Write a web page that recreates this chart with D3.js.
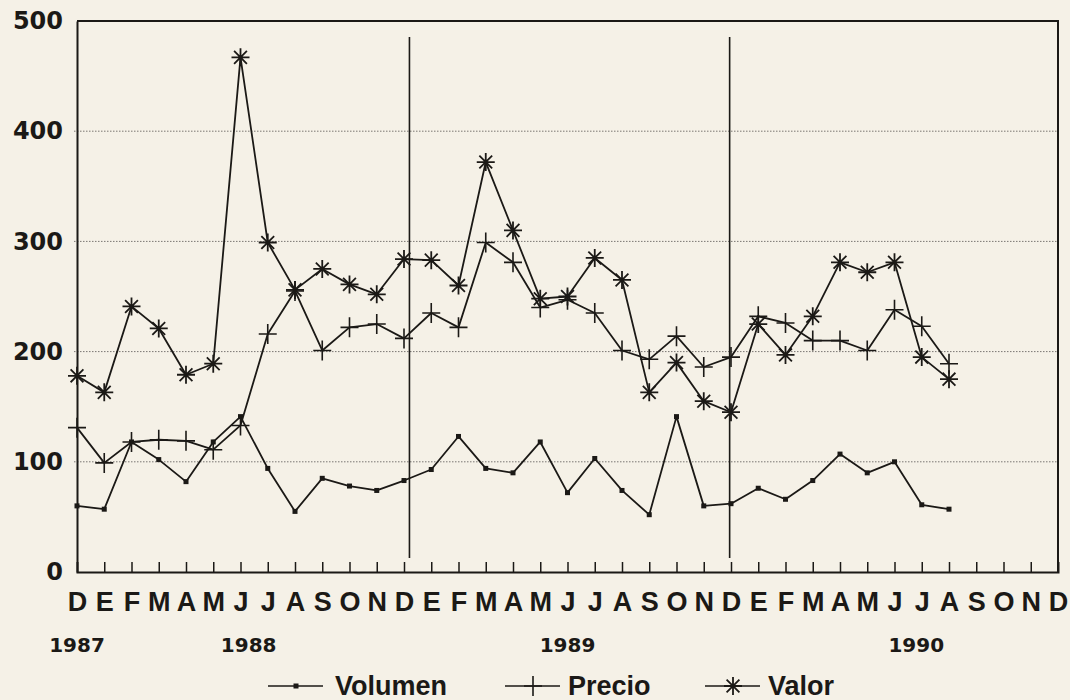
<!DOCTYPE html>
<html>
<head>
<meta charset="utf-8">
<script src="https://cdn.jsdelivr.net/npm/d3@7"></script>
<style>
  html, body { margin: 0; padding: 0; background: #f5f1e7; }
  svg { display: block; }
</style>
</head>
<body>
<div id="chart"></div>
<script>
// month letters, Dec 1987 .. Dec 1990
var months = ["D","E","F","M","A","M","J","J","A","S","O","N",
              "D","E","F","M","A","M","J","J","A","S","O","N",
              "D","E","F","M","A","M","J","J","A","S","O","N","D"];
var years = ["1987", "1988", "1989", "1990"];
var yearPos = [0, 6.3, 18, 30.8];      // month index where each year label sits
var separators = [12.2, 23.95];        // vertical year dividers
var yTicks = [0, 100, 200, 300, 400, 500];

var volumen = [60, 57, 118, 102, 82, 118, 141, 94, 55, 85, 78, 74,
               83, 93, 123, 94, 90, 118, 72, 103, 74, 52, 141, 60,
               62, 76, 66, 83, 107, 90, 100, 61, 57];
var precio  = [131, 99, 118, 120, 119, 111, 133, 216, 255, 201, 222, 225,
               212, 235, 222, 299, 281, 240, 247, 235, 201, 193, 214, 186,
               195, 232, 226, 210, 210, 201, 238, 223, 189];
var valor   = [178, 163, 241, 221, 179, 189, 467, 299, 256, 275, 261, 252,
               284, 283, 260, 372, 310, 248, 250, 285, 265, 163, 190, 155,
               145, 225, 197, 232, 281, 272, 281, 195, 175];

var ink = "#1b1916";
var W = 1070, H = 700;

var svg = d3.select("#chart").append("svg")
    .attr("width", W)
    .attr("height", H);

var x = d3.scaleLinear().domain([0, 36]).range([77, 1058]);
var y = d3.scaleLinear().domain([0, 500]).range([572, 21]);

// dotted grid
svg.append("g").selectAll("line")
  .data([100, 200, 300, 400])
  .enter().append("line")
    .attr("x1", x(0) - 3)
    .attr("x2", x(36))
    .attr("y1", d => y(d))
    .attr("y2", d => y(d))
    .attr("stroke", "#7a7672")
    .attr("stroke-width", 1)
    .attr("stroke-dasharray", "1.5,1.5");

// frame: top + right
svg.append("path")
    .attr("d", "M" + x(0) + "," + y(500) + "H" + x(36) + "V" + y(0))
    .attr("fill", "none")
    .attr("stroke", ink)
    .attr("stroke-width", 2);

// year separators
svg.append("g").selectAll("line")
  .data(separators)
  .enter().append("line")
    .attr("x1", d => x(d))
    .attr("x2", d => x(d))
    .attr("y1", 37)
    .attr("y2", 558)
    .attr("stroke", ink)
    .attr("stroke-width", 1.6);

// y axis
var yAxis = d3.axisLeft(y).tickValues(yTicks).tickSize(0).tickPadding(14);
var gy = svg.append("g")
    .attr("transform", "translate(" + x(0) + ",0)")
    .call(yAxis);
gy.select(".domain").attr("stroke", ink).attr("stroke-width", 2);
gy.selectAll("text")
    .attr("fill", ink)
    .style("font-family", "'DejaVu Sans', sans-serif")
    .style("font-weight", "bold")
    .style("font-size", "24px");

// x axis: ticks pointing up, letters below
var xAxis = d3.axisBottom(x)
    .tickValues(d3.range(0, 37))
    .tickSize(-10)
    .tickPadding(20)
    .tickFormat(i => months[i]);
var gx = svg.append("g")
    .attr("transform", "translate(0," + y(0) + ")")
    .call(xAxis);
gx.select(".domain").attr("stroke", ink).attr("stroke-width", 2);
gx.selectAll(".tick line")
    .attr("stroke", ink)
    .attr("stroke-width", 1.5)
    .attr("opacity", (d, i) => (i === 0 || i === 36) ? 0 : 1);
gx.selectAll("text")
    .attr("fill", ink)
    .style("font-family", "'Liberation Sans', Arial, sans-serif")
    .style("font-weight", "bold")
    .style("font-size", "27px");

// year labels
svg.append("g").selectAll("text")
  .data(years)
  .enter().append("text")
    .attr("x", (d, i) => x(yearPos[i]))
    .attr("y", 652)
    .attr("text-anchor", "middle")
    .attr("fill", ink)
    .style("font-family", "'DejaVu Sans', sans-serif")
    .style("font-weight", "bold")
    .style("font-size", "20px")
    .text(d => d);

// markers
function square(g) {
  g.append("rect").attr("x", -2.5).attr("y", -2.5).attr("width", 5).attr("height", 5)
    .attr("fill", ink);
}
function plus(g) {
  g.append("path").attr("d", "M-9,0H9M0,-10V10")
    .attr("stroke", ink).attr("stroke-width", 1.6).attr("fill", "none");
}
function star(g) {
  g.append("path").attr("d", "M-9,0H9M0,-9V9M-6.4,-6.4L6.4,6.4M-6.4,6.4L6.4,-6.4")
    .attr("stroke", ink).attr("stroke-width", 1.8).attr("fill", "none");
}

var line = d3.line()
    .x((d, i) => x(i))
    .y(d => y(d));

var series = [
  {name: "Volumen", values: volumen, mark: square},
  {name: "Precio", values: precio, mark: plus},
  {name: "Valor", values: valor, mark: star}
];

series.forEach(function (s) {
  svg.append("path")
      .datum(s.values)
      .attr("d", line)
      .attr("fill", "none")
      .attr("stroke", ink)
      .attr("stroke-width", 1.8)
      .attr("stroke-linejoin", "round");
  svg.append("g").selectAll("g")
    .data(s.values)
    .enter().append("g")
      .attr("transform", (d, i) => "translate(" + x(i) + "," + y(d) + ")")
      .each(function () { s.mark(d3.select(this)); });
});

// legend
var legendX = [268, 505, 705];
var leg = svg.append("g").selectAll("g")
  .data(series)
  .enter().append("g")
    .attr("transform", (d, i) => "translate(" + legendX[i] + ",686)");
leg.append("line")
    .attr("x1", 0).attr("x2", 55)
    .attr("stroke", ink).attr("stroke-width", 1.7);
leg.each(function (d) {
  var m = d3.select(this).append("g").attr("transform", "translate(28,0)");
  d.mark(m);
});
leg.append("text")
    .attr("x", (d, i) => i === 0 ? 67 : 63)
    .attr("y", 9)
    .attr("fill", ink)
    .style("font-family", "'Liberation Sans', Arial, sans-serif")
    .style("font-weight", "bold")
    .style("font-size", "27px")
    .text(d => d.name);
</script>
</body>
</html>
